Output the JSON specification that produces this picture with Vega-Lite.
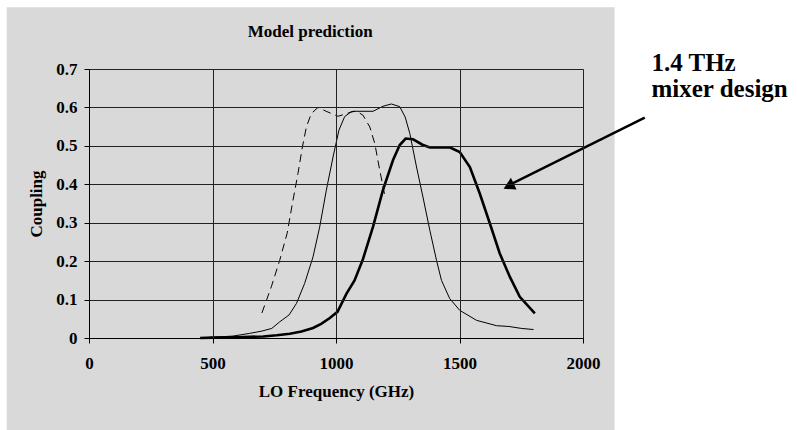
{
  "$schema": "https://vega.github.io/schema/vega-lite/v6.json",
  "width": 494,
  "height": 269,
  "autosize": "none",
  "padding": {"left": 89, "top": 69, "right": 214, "bottom": 92},
  "background": "white",
  "config": {
    "view": {"stroke": null},
    "axis": {
      "labelFont": "Liberation Serif",
      "labelFontSize": 17,
      "labelFontWeight": "bold",
      "labelColor": "black",
      "titleFont": "Liberation Serif",
      "titleFontSize": 17,
      "titleFontWeight": "bold",
      "titleColor": "black",
      "domainColor": "black",
      "domainWidth": 1,
      "tickColor": "black",
      "tickSize": 5,
      "gridColor": "#222",
      "gridWidth": 1,
      "gridOpacity": 1
    },
    "axisX": {"tickCount": 8},
    "axisY": {"tickCount": 14}
  },
  "datasets": {
    "curves": [
      {"series": "dashed", "freq": 700, "coupling": 0.065},
      {"series": "dashed", "freq": 738, "coupling": 0.133},
      {"series": "dashed", "freq": 772, "coupling": 0.202},
      {"series": "dashed", "freq": 802, "coupling": 0.272},
      {"series": "dashed", "freq": 826, "coupling": 0.359},
      {"series": "dashed", "freq": 846, "coupling": 0.428},
      {"series": "dashed", "freq": 864, "coupling": 0.497},
      {"series": "dashed", "freq": 880, "coupling": 0.549},
      {"series": "dashed", "freq": 900, "coupling": 0.584},
      {"series": "dashed", "freq": 927, "coupling": 0.6},
      {"series": "dashed", "freq": 960, "coupling": 0.59},
      {"series": "dashed", "freq": 1008, "coupling": 0.577},
      {"series": "dashed", "freq": 1040, "coupling": 0.583},
      {"series": "dashed", "freq": 1069, "coupling": 0.59},
      {"series": "dashed", "freq": 1083, "coupling": 0.59},
      {"series": "dashed", "freq": 1109, "coupling": 0.58},
      {"series": "dashed", "freq": 1137, "coupling": 0.549},
      {"series": "dashed", "freq": 1157, "coupling": 0.506},
      {"series": "dashed", "freq": 1177, "coupling": 0.437},
      {"series": "dashed", "freq": 1200, "coupling": 0.363},
      {"series": "thin", "freq": 450, "coupling": 0.0},
      {"series": "thin", "freq": 500, "coupling": 0.002},
      {"series": "thin", "freq": 583, "coupling": 0.005},
      {"series": "thin", "freq": 650, "coupling": 0.012},
      {"series": "thin", "freq": 700, "coupling": 0.018},
      {"series": "thin", "freq": 740, "coupling": 0.025},
      {"series": "thin", "freq": 772, "coupling": 0.042},
      {"series": "thin", "freq": 810, "coupling": 0.06},
      {"series": "thin", "freq": 840, "coupling": 0.09},
      {"series": "thin", "freq": 873, "coupling": 0.142},
      {"series": "thin", "freq": 907, "coupling": 0.211},
      {"series": "thin", "freq": 934, "coupling": 0.289},
      {"series": "thin", "freq": 961, "coupling": 0.385},
      {"series": "thin", "freq": 988, "coupling": 0.471},
      {"series": "thin", "freq": 1012, "coupling": 0.541},
      {"series": "thin", "freq": 1035, "coupling": 0.576},
      {"series": "thin", "freq": 1060, "coupling": 0.588},
      {"series": "thin", "freq": 1080, "coupling": 0.59},
      {"series": "thin", "freq": 1150, "coupling": 0.59},
      {"series": "thin", "freq": 1190, "coupling": 0.603},
      {"series": "thin", "freq": 1224, "coupling": 0.609},
      {"series": "thin", "freq": 1258, "coupling": 0.602},
      {"series": "thin", "freq": 1280, "coupling": 0.575},
      {"series": "thin", "freq": 1299, "coupling": 0.532},
      {"series": "thin", "freq": 1326, "coupling": 0.445},
      {"series": "thin", "freq": 1352, "coupling": 0.367},
      {"series": "thin", "freq": 1380, "coupling": 0.28},
      {"series": "thin", "freq": 1407, "coupling": 0.202},
      {"series": "thin", "freq": 1427, "coupling": 0.15},
      {"series": "thin", "freq": 1460, "coupling": 0.103},
      {"series": "thin", "freq": 1501, "coupling": 0.072},
      {"series": "thin", "freq": 1569, "coupling": 0.046},
      {"series": "thin", "freq": 1650, "coupling": 0.032},
      {"series": "thin", "freq": 1700, "coupling": 0.03},
      {"series": "thin", "freq": 1750, "coupling": 0.025},
      {"series": "thin", "freq": 1800, "coupling": 0.022},
      {"series": "thick", "freq": 450, "coupling": 0.0},
      {"series": "thick", "freq": 500, "coupling": 0.001},
      {"series": "thick", "freq": 600, "coupling": 0.002},
      {"series": "thick", "freq": 705, "coupling": 0.004},
      {"series": "thick", "freq": 760, "coupling": 0.007},
      {"series": "thick", "freq": 813, "coupling": 0.011},
      {"series": "thick", "freq": 860, "coupling": 0.017},
      {"series": "thick", "freq": 907, "coupling": 0.026},
      {"series": "thick", "freq": 940, "coupling": 0.037},
      {"series": "thick", "freq": 975, "coupling": 0.052},
      {"series": "thick", "freq": 1006, "coupling": 0.068},
      {"series": "thick", "freq": 1042, "coupling": 0.115},
      {"series": "thick", "freq": 1075, "coupling": 0.15},
      {"series": "thick", "freq": 1109, "coupling": 0.205},
      {"series": "thick", "freq": 1150, "coupling": 0.29},
      {"series": "thick", "freq": 1190, "coupling": 0.385},
      {"series": "thick", "freq": 1231, "coupling": 0.463},
      {"series": "thick", "freq": 1258, "coupling": 0.502},
      {"series": "thick", "freq": 1282, "coupling": 0.519},
      {"series": "thick", "freq": 1312, "coupling": 0.517},
      {"series": "thick", "freq": 1350, "coupling": 0.503},
      {"series": "thick", "freq": 1380, "coupling": 0.496},
      {"series": "thick", "freq": 1460, "coupling": 0.496},
      {"series": "thick", "freq": 1501, "coupling": 0.484},
      {"series": "thick", "freq": 1542, "coupling": 0.445},
      {"series": "thick", "freq": 1582, "coupling": 0.376},
      {"series": "thick", "freq": 1623, "coupling": 0.298},
      {"series": "thick", "freq": 1663, "coupling": 0.22},
      {"series": "thick", "freq": 1704, "coupling": 0.159},
      {"series": "thick", "freq": 1744, "coupling": 0.107},
      {"series": "thick", "freq": 1805, "coupling": 0.064}
    ],
    "notes": [
      {"label": "1.4 THz", "freq": 2277, "coupling": 0.6945},
      {"label": "mixer design", "freq": 2277, "coupling": 0.6268}
    ],
    "heading": [
      {"label": "Model prediction", "freq": 895.6, "coupling": 0.7844}
    ],
    "one": [{}]
  },
  "layer": [
    {
      "data": {"name": "one"},
      "mark": {"type": "rect", "fill": "#d9d9d9", "clip": false},
      "encoding": {
        "x": {
          "datum": -333,
          "type": "quantitative",
          "scale": {"domain": [0, 2000], "nice": false, "zero": false},
          "axis": {
            "values": [0, 500, 1000, 1500, 2000],
            "tickCount": 8,
            "grid": true,
            "format": "d",
            "labelPadding": 12,
            "titlePadding": 12,
            "labelFlush": false,
            "zindex": 1
          },
          "title": "LO Frequency (GHz)"
        },
        "x2": {"datum": 2128},
        "y": {
          "datum": 0.861,
          "type": "quantitative",
          "scale": {"domain": [0, 0.7], "nice": false, "zero": false},
          "axis": {
            "values": [0, 0.1, 0.2, 0.3, 0.4, 0.5, 0.6, 0.7],
            "tickCount": 14,
            "grid": true,
            "labelPadding": 7,
            "titlePadding": 10,
            "labelFlush": false,
            "labelOverlap": false,
            "format": "~g",
            "zindex": 1
          },
          "title": "Coupling"
        },
        "y2": {"datum": -0.2404}
      }
    },
    {
      "data": {"name": "curves"},
      "transform": [{"filter": "datum.series === 'thin'"}],
      "mark": {"type": "line", "color": "black", "strokeWidth": 1, "clip": false},
      "encoding": {
        "x": {"field": "freq", "type": "quantitative", "title": "LO Frequency (GHz)"},
        "y": {"field": "coupling", "type": "quantitative", "title": "Coupling"}
      }
    },
    {
      "data": {"name": "curves"},
      "transform": [{"filter": "datum.series === 'dashed'"}],
      "mark": {"type": "line", "color": "black", "strokeWidth": 1, "strokeDash": [8, 5], "clip": false},
      "encoding": {
        "x": {"field": "freq", "type": "quantitative", "title": "LO Frequency (GHz)"},
        "y": {"field": "coupling", "type": "quantitative", "title": "Coupling"}
      }
    },
    {
      "data": {"name": "curves"},
      "transform": [{"filter": "datum.series === 'thick'"}],
      "mark": {"type": "line", "color": "black", "strokeWidth": 2.6, "clip": false},
      "encoding": {
        "x": {"field": "freq", "type": "quantitative", "title": "LO Frequency (GHz)"},
        "y": {"field": "coupling", "type": "quantitative", "title": "Coupling"}
      }
    },
    {
      "data": {"name": "one"},
      "mark": {"type": "rule", "color": "black", "strokeWidth": 2.5, "clip": false},
      "encoding": {
        "x": {"datum": 2250, "type": "quantitative", "title": "LO Frequency (GHz)"},
        "y": {"datum": 0.5734, "type": "quantitative", "title": "Coupling"},
        "x2": {"datum": 1691},
        "y2": {"datum": 0.395}
      }
    },
    {
      "data": {"name": "one"},
      "mark": {"type": "point", "shape": "triangle-up", "filled": true, "color": "black", "opacity": 1, "size": 170, "angle": 244, "clip": false},
      "encoding": {
        "x": {"datum": 1699, "type": "quantitative", "title": "LO Frequency (GHz)"},
        "y": {"datum": 0.395, "type": "quantitative", "title": "Coupling"}
      }
    },
    {
      "data": {"name": "notes"},
      "mark": {"type": "text", "font": "Liberation Serif", "fontSize": 25, "fontWeight": "bold", "color": "black", "align": "left", "baseline": "alphabetic", "clip": false},
      "encoding": {
        "x": {"field": "freq", "type": "quantitative", "title": "LO Frequency (GHz)"},
        "y": {"field": "coupling", "type": "quantitative", "title": "Coupling"},
        "text": {"field": "label"}
      }
    },
    {
      "data": {"name": "heading"},
      "mark": {"type": "text", "font": "Liberation Serif", "fontSize": 17, "fontWeight": "bold", "color": "black", "align": "center", "baseline": "alphabetic", "clip": false},
      "encoding": {
        "x": {"field": "freq", "type": "quantitative", "title": "LO Frequency (GHz)"},
        "y": {"field": "coupling", "type": "quantitative", "title": "Coupling"},
        "text": {"field": "label"}
      }
    }
  ]
}
